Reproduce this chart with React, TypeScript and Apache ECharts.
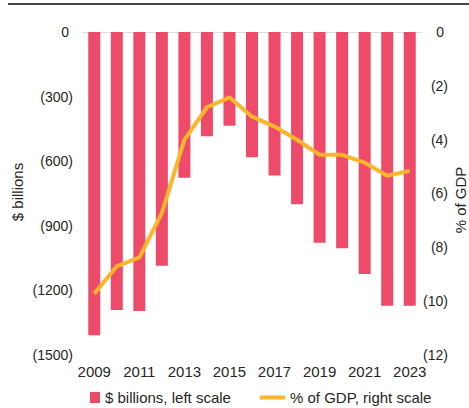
import React, { useEffect, useRef } from "react";
import * as echarts from "echarts";

const years = ["2009","2010","2011","2012","2013","2014","2015","2016","2017","2018","2019","2020","2021","2022","2023"];
const deficitBillions = [-1410, -1293, -1298, -1087, -678, -485, -436, -583, -667, -801, -980, -1006, -1126, -1273, -1273];
const deficitPctGdp = [-9.74, -8.72, -8.39, -6.74, -4.01, -2.8, -2.43, -3.15, -3.52, -4.01, -4.57, -4.57, -4.86, -5.35, -5.16];
const leftTicks = { min: -1500, max: 0, interval: 300 };
const rightTicks = { min: -12, max: 0, interval: 2 };
const barName = "$ billions, left scale";
const lineName = "% of GDP, right scale";

const FONT = "'Liberation Sans', Arial, Helvetica, sans-serif";
const TEXT = "#262626";
const BAR = "#EE4B6A";
const LINE = "#FDB62B";

const fmt = (v: number) => (v === 0 ? "0 " : `(${-v})`);

export default function App() {
  const ref = useRef<HTMLDivElement>(null);
  useEffect(() => {
    if (!ref.current) return;
    const chart = echarts.init(ref.current, null, { renderer: "svg" });
    chart.setOption({
      animation: false,
      textStyle: { fontFamily: FONT },
      grid: { left: 83, right: 48, top: 32, bottom: 53.5, containLabel: false },
      legend: [
        {
          data: [barName],
          left: 90,
          top: 390,
          padding: 0,
          itemWidth: 10,
          itemHeight: 11,
          icon: "rect",
          textStyle: { fontSize: 15, color: TEXT, fontFamily: FONT },
        },
        {
          data: [lineName],
          left: 260,
          top: 390,
          padding: 0,
          itemWidth: 25,
          itemHeight: 4,
          icon: "rect",
          textStyle: { fontSize: 15, color: TEXT, fontFamily: FONT },
        },
      ],
      xAxis: [
        {
          type: "category",
          data: years,
          position: "bottom",
          axisLine: { show: false },
          axisTick: { show: false },
          axisLabel: { interval: 1, fontSize: 15, color: TEXT, margin: 9, fontFamily: FONT },
        },
        {
          type: "category",
          data: years,
          position: "top",
          axisLine: { show: true, lineStyle: { color: "#dcdcdc", width: 1 } },
          axisTick: { show: false },
          axisLabel: { show: false },
        },
      ],
      yAxis: [
        {
          type: "value",
          position: "left",
          ...leftTicks,
          splitLine: { show: false },
          axisLine: { show: false },
          axisTick: { show: false },
          axisLabel: { formatter: fmt, fontSize: 14, color: TEXT, margin: 10, fontFamily: FONT },
        },
        {
          type: "value",
          position: "right",
          ...rightTicks,
          splitLine: { show: false },
          axisLine: { show: false },
          axisTick: { show: false },
          axisLabel: { formatter: fmt, fontSize: 14, color: TEXT, margin: 27, align: "right", fontFamily: FONT },
        },
      ],
      series: [
        {
          name: barName,
          type: "bar",
          data: deficitBillions,
          xAxisIndex: 0,
          yAxisIndex: 0,
          barWidth: 12,
          itemStyle: { color: BAR },
        },
        {
          name: lineName,
          type: "line",
          data: deficitPctGdp,
          xAxisIndex: 0,
          yAxisIndex: 1,
          showSymbol: false,
          symbol: "none",
          lineStyle: { color: LINE, width: 4 },
          itemStyle: { color: LINE },
        },
      ],
      graphic: [
        {
          type: "line",
          shape: { x1: 8, y1: 4, x2: 469, y2: 4 },
          style: { stroke: "#444", lineWidth: 2 },
        },
        {
          type: "text",
          x: 17.5,
          y: 192,
          rotation: Math.PI / 2,
          style: { text: "$ billions", fontSize: 15, fill: TEXT, fontFamily: FONT, align: "center", verticalAlign: "middle" },
        },
        {
          type: "text",
          x: 460,
          y: 200,
          rotation: Math.PI / 2,
          style: { text: "% of GDP", fontSize: 15, fill: TEXT, fontFamily: FONT, align: "center", verticalAlign: "middle" },
        },
      ],
    });
    return () => chart.dispose();
  }, []);
  return (
    <div
      ref={ref}
      style={{ position: "fixed", left: 0, top: 0, width: 469, height: 408, background: "#fff" }}
    />
  );
}
